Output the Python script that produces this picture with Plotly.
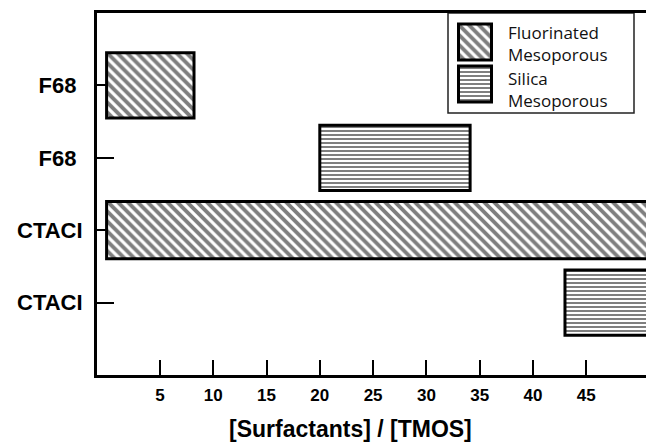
import plotly.graph_objects as go

# ---- data ----
y_labels = ["CTACI", "CTACI", "F68\u00a0", "F68\u00a0"]          # bottom -> top
y_positions = [0, 1, 2, 3]

fl_name = "Fluorinated Mesoporous"
fl_pos = [3, 1]
fl_start = [0, 0]
fl_end = [8.2, 52]

si_name = "Silica Mesoporous"
si_pos = [2, 0]
si_start = [20, 43]
si_end = [34.1, 52]

x_ticks = [5, 10, 15, 20, 25, 30, 35, 40, 45]
x_title = "[Surfactants] / [TMOS]"

# ---- layout geometry ----
W, H = 646, 442
L, R, T, B = 97, 0, 13, 67
PW, PH = W - L - R, H - T - B


def pxx(p):
    return (p - L) / PW


def pxy(p):
    return (H - B - p) / PH


FL_PAT = dict(shape="\\", fgcolor="black", bgcolor="white", size=7, solidity=0.55)
SI_PAT = dict(shape="-", fgcolor="black", bgcolor="white", size=4, solidity=0.5)

fig = go.Figure()

fig.add_trace(go.Bar(
    y=fl_pos, x=[e - s for s, e in zip(fl_start, fl_end)], base=fl_start,
    orientation="h", width=[0.9, 0.79], name=fl_name, showlegend=False,
    marker=dict(color="white", line=dict(color="black", width=3), pattern=FL_PAT),
))
fig.add_trace(go.Bar(
    y=si_pos, x=[e - s for s, e in zip(si_start, si_end)], base=si_start,
    orientation="h", width=[0.9, 0.9], name=si_name, showlegend=False,
    marker=dict(color="white", line=dict(color="black", width=3), pattern=SI_PAT),
))

# legend swatches drawn on a small inset axis
fig.add_trace(go.Bar(
    y=[1], x=[1], base=[0], orientation="h", width=0.86, xaxis="x2", yaxis="y2",
    showlegend=False, hoverinfo="skip",
    marker=dict(color="white", line=dict(color="black", width=3), pattern=FL_PAT),
))
fig.add_trace(go.Bar(
    y=[0], x=[1], base=[0], orientation="h", width=0.86, xaxis="x2", yaxis="y2",
    showlegend=False, hoverinfo="skip",
    marker=dict(color="white", line=dict(color="black", width=3), pattern=SI_PAT),
))

fig.update_layout(
    width=W, height=H,
    margin=dict(l=L, r=R, t=T, b=B),
    paper_bgcolor="white", plot_bgcolor="white",
    barmode="overlay",
    showlegend=False,
    xaxis=dict(
        range=[-0.9, 50.6], tickvals=x_ticks, ticks="inside", ticklen=15, tickwidth=2,
        tickcolor="black", showline=True, linecolor="black", linewidth=3, mirror=True,
        showgrid=False, zeroline=False, layer="below traces",
        tickfont=dict(family="Liberation Sans", size=17, color="black", weight="bold"),
        ticklabelstandoff=3,
    ),
    yaxis=dict(
        range=[-1, 4], tickvals=y_positions,
        ticktext=y_labels,
        ticks="inside", ticklen=17, tickwidth=2, tickcolor="black",
        showline=True, linecolor="black", linewidth=3, mirror=False,
        showgrid=False, zeroline=False, layer="below traces",
        tickfont=dict(family="Liberation Sans", size=22, color="black", weight="bold"),
        ticklabelstandoff=7,
    ),
    xaxis2=dict(domain=[pxx(452), pxx(498)], range=[-0.197, 1.197], anchor="y2",
                visible=False, fixedrange=True),
    yaxis2=dict(domain=[pxy(108), pxy(18)], range=[-0.571, 1.571], anchor="x2",
                visible=False, fixedrange=True),
    shapes=[dict(type="rect", xref="paper", yref="paper",
                 x0=pxx(448), x1=pxx(634), y0=pxy(113), y1=pxy(13),
                 line=dict(color="#222", width=1.5), fillcolor="rgba(0,0,0,0)",
                 layer="below")],
)

leg_font = dict(family="Open Sans", size=17, color="#111")
for txt, yy in [("Fluorinated<br>Mesoporous", 43), ("Silica<br>Mesoporous", 89)]:
    fig.add_annotation(text=txt, xref="paper", yref="paper", x=pxx(506), y=pxy(yy),
                       xanchor="left", yanchor="middle", align="left", showarrow=False,
                       font=leg_font)

fig.add_annotation(text=x_title, xref="paper", yref="paper", x=pxx(350), y=pxy(429),
                   xanchor="center", yanchor="middle", showarrow=False,
                   font=dict(family="Liberation Sans", size=23, color="black", weight="bold"))

fig.write_html("out.html")
